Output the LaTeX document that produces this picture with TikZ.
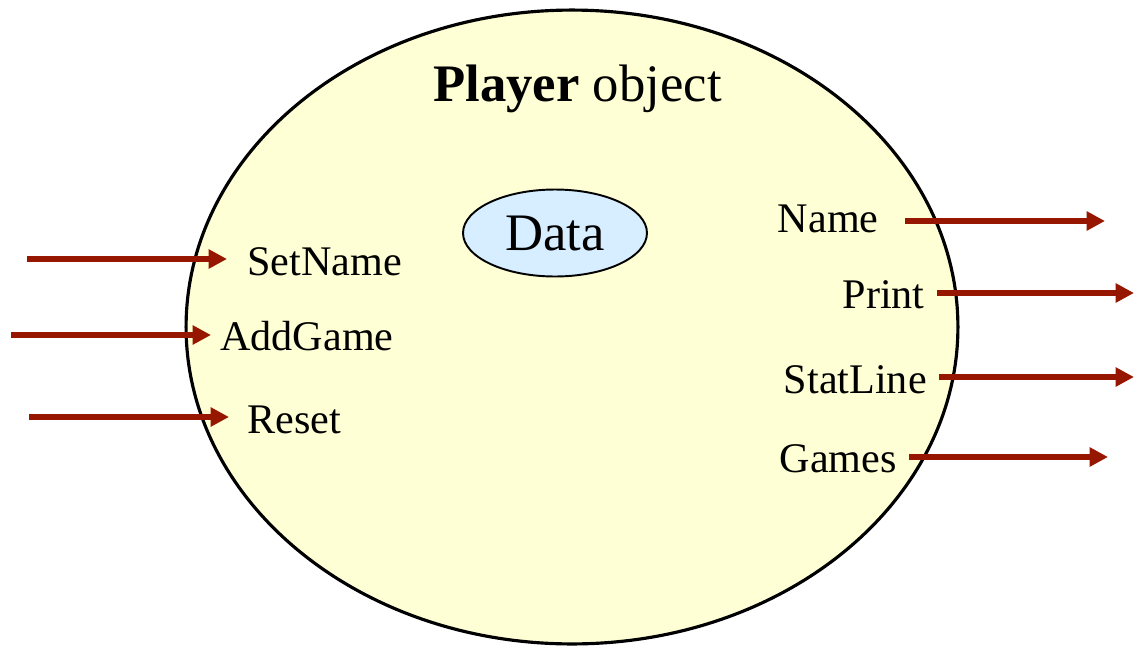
\documentclass[tikz,border=0pt]{standalone}
\usepackage{fontspec}
\setmainfont{Liberation Serif}
\usepackage{xcolor}
\usetikzlibrary{shapes.geometric,arrows.meta}
\definecolor{objfill}{RGB}{255,255,213}
\definecolor{datafill}{RGB}{214,238,255}
\definecolor{arrred}{RGB}{150,22,0}
\begin{document}
\begin{tikzpicture}[x=0.02cm,y=-0.02cm,
	arr/.style={color=arrred,line width=3.3pt,-{Triangle[length=10.5pt,width=10.5pt]}},
	lbl/.style={inner ysep=0pt,font=\fontsize{24}{28}\selectfont}]
	\useasboundingbox (0,0) rectangle (1134,653);
	\node[ellipse,draw,line width=1.8pt,fill=objfill,minimum width=15.44cm,minimum height=12.68cm] (player) at (572,327) {}; % l'objet
	\node[anchor=base west,inner sep=0pt,font=\fontsize{30}{34}\selectfont] (title) at (433,101) {\bfseries Player\mdseries{} object};
	\node[ellipse,draw,line width=1.1pt,fill=datafill,minimum width=3.68cm,minimum height=1.74cm,font=\fontsize{30}{34}\selectfont] (data) at (555,233) {Data};
	% messages entrants
	\node[lbl,anchor=base west,inner xsep=11.4pt] (setname) at (227,275) {SetName};
	\node[lbl,anchor=base west,inner xsep=5.1pt] (addgame) at (211,350) {AddGame};
	\node[lbl,anchor=base west,inner xsep=10.2pt] (reset) at (229,433) {Reset};
	\coordinate (setname-in) at (27,259);
	\coordinate (addgame-in) at (11,335);
	\coordinate (reset-in) at (29,417);
	\draw[arr] (setname-in) -- (setname-in -| setname.west);
	\draw[arr] (addgame-in) -- (addgame-in -| addgame.west);
	\draw[arr] (reset-in) -- (reset-in -| reset.west);
	% messages sortants
	\node[lbl,anchor=base east,inner xsep=14.8pt] (name) at (905,232) {Name};
	\node[lbl,anchor=base east,inner xsep=6.8pt] (print) at (937,308) {Print};
	\node[lbl,anchor=base east,inner xsep=6.8pt] (statline) at (939,393) {StatLine};
	\node[lbl,anchor=base east,inner xsep=6.8pt] (games) at (909,472) {Games};
	\coordinate (name-out) at (1105,221);
	\coordinate (print-out) at (1134,293);
	\coordinate (statline-out) at (1134,377);
	\coordinate (games-out) at (1108,457);
	\draw[arr] (name-out -| name.east) -- (name-out);
	\draw[arr] (print-out -| print.east) -- (print-out);
	\draw[arr] (statline-out -| statline.east) -- (statline-out);
	\draw[arr] (games-out -| games.east) -- (games-out);
\end{tikzpicture}
\end{document}
